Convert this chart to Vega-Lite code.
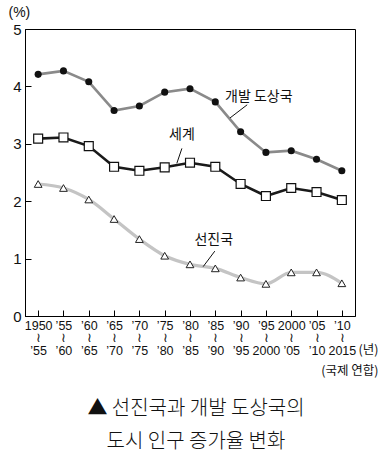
{
  "$schema": "https://vega.github.io/schema/vega-lite/v6.json",
  "width": 330,
  "height": 287,
  "autosize": {"type": "none"},
  "padding": {"left": 25, "top": 29, "right": 29, "bottom": 145},
  "background": "white",
  "config": {
    "view": {"stroke": "black", "strokeWidth": 1},
    "font": "Liberation Sans"
  },
  "title": {
    "text": ["▲ 선진국과 개발 도상국의", "도시 인구 증가율 변화"],
    "orient": "bottom",
    "anchor": "middle",
    "frame": "group",
    "font": "Noto Sans CJK KR",
    "fontSize": 20,
    "fontWeight": 300,
    "lineHeight": 33,
    "color": "#111",
    "dx": 6,
    "offset": 22
  },
  "datasets": {
    "rates": [
      {"year": 1950, "series": "개발 도상국", "value": 4.21},
      {"year": 1955, "series": "개발 도상국", "value": 4.27},
      {"year": 1960, "series": "개발 도상국", "value": 4.08},
      {"year": 1965, "series": "개발 도상국", "value": 3.58},
      {"year": 1970, "series": "개발 도상국", "value": 3.66},
      {"year": 1975, "series": "개발 도상국", "value": 3.9},
      {"year": 1980, "series": "개발 도상국", "value": 3.96},
      {"year": 1985, "series": "개발 도상국", "value": 3.73},
      {"year": 1990, "series": "개발 도상국", "value": 3.21},
      {"year": 1995, "series": "개발 도상국", "value": 2.85},
      {"year": 2000, "series": "개발 도상국", "value": 2.88},
      {"year": 2005, "series": "개발 도상국", "value": 2.73},
      {"year": 2010, "series": "개발 도상국", "value": 2.53},
      {"year": 1950, "series": "세계", "value": 3.09},
      {"year": 1955, "series": "세계", "value": 3.11},
      {"year": 1960, "series": "세계", "value": 2.96},
      {"year": 1965, "series": "세계", "value": 2.6},
      {"year": 1970, "series": "세계", "value": 2.53},
      {"year": 1975, "series": "세계", "value": 2.59},
      {"year": 1980, "series": "세계", "value": 2.67},
      {"year": 1985, "series": "세계", "value": 2.6},
      {"year": 1990, "series": "세계", "value": 2.3},
      {"year": 1995, "series": "세계", "value": 2.09},
      {"year": 2000, "series": "세계", "value": 2.23},
      {"year": 2005, "series": "세계", "value": 2.16},
      {"year": 2010, "series": "세계", "value": 2.02},
      {"year": 1950, "series": "선진국", "value": 2.3},
      {"year": 1955, "series": "선진국", "value": 2.23},
      {"year": 1960, "series": "선진국", "value": 2.03},
      {"year": 1965, "series": "선진국", "value": 1.69},
      {"year": 1970, "series": "선진국", "value": 1.34},
      {"year": 1975, "series": "선진국", "value": 1.05},
      {"year": 1980, "series": "선진국", "value": 0.9},
      {"year": 1985, "series": "선진국", "value": 0.83},
      {"year": 1990, "series": "선진국", "value": 0.67},
      {"year": 1995, "series": "선진국", "value": 0.56},
      {"year": 2000, "series": "선진국", "value": 0.76},
      {"year": 2005, "series": "선진국", "value": 0.76},
      {"year": 2010, "series": "선진국", "value": 0.57}
    ],
    "labels": [
      {"label": "개발 도상국", "year": 1993.6, "value": 3.82},
      {"label": "세계", "year": 1978.4, "value": 3.16},
      {"label": "선진국", "year": 1984.7, "value": 1.33}
    ],
    "leaders": [
      {"year": 1987.9, "value": 3.45, "year2": 1991.3, "value2": 3.68},
      {"year": 1977.4, "value": 2.66, "year2": 1978.4, "value2": 2.92},
      {"year": 1982.6, "value": 0.86, "year2": 1984.9, "value2": 1.13}
    ]
  },
  "encoding": {
    "x": {
      "field": "year",
      "type": "quantitative",
      "scale": {"domain": [1947.4, 2012.6], "nice": false, "zero": false},
      "axis": {
        "values": [1950, 1955, 1960, 1965, 1970, 1975, 1980, 1985, 1990, 1995, 2000, 2005, 2010],
        "labelExpr": "[(datum.value==1950||datum.value==2000)?toString(datum.value):'’'+substring(toString(datum.value),2), '≀', (datum.value==1995||datum.value==2010)?toString(datum.value+5):'’'+substring(toString(datum.value+5),2)]",
        "labelOverlap": false,
        "labelFlush": false,
        "labelBound": false,
        "labelFontSize": 12.5,
        "labelLineHeight": 12.5,
        "labelBaseline": "top",
        "labelPadding": 9,
        "labelColor": "#111",
        "tickSize": -6,
        "tickColor": "black",
        "domainColor": "black",
        "grid": false,
        "title": ["(년)", "(국제 연합)"],
        "titleFont": "Noto Sans CJK KR",
        "titleFontSize": 12.5,
        "titleFontWeight": "normal",
        "titleLineHeight": 21,
        "titleAlign": "right",
        "titleAnchor": null,
        "titleBaseline": "top",
        "titleX": 353,
        "titleY": 27,
        "titleColor": "#111"
      }
    },
    "y": {
      "field": "value",
      "type": "quantitative",
      "scale": {"domain": [0, 5], "nice": false},
      "axis": {
        "values": [0, 1, 2, 3, 4, 5],
        "labelFontSize": 15,
        "labelPadding": 10,
        "labelColor": "#111",
        "tickSize": -6,
        "tickColor": "black",
        "domainColor": "black",
        "grid": false,
        "title": "(%)",
        "titleAngle": 0,
        "titleFontSize": 14,
        "titleFontWeight": "normal",
        "titleAlign": "left",
        "titleBaseline": "top",
        "titleX": -17,
        "titleY": -24,
        "titleColor": "#111"
      }
    }
  },
  "layer": [
    {
      "data": {"name": "rates"},
      "transform": [{"filter": "datum.series == '선진국'"}],
      "mark": {"type": "line", "color": "#c4c4c4", "strokeWidth": 3.2, "interpolate": "monotone"}
    },
    {
      "data": {"name": "rates"},
      "transform": [{"filter": "datum.series == '개발 도상국'"}],
      "mark": {"type": "line", "color": "#8a8a8a", "strokeWidth": 2.6}
    },
    {
      "data": {"name": "rates"},
      "transform": [{"filter": "datum.series == '세계'"}],
      "mark": {"type": "line", "color": "#1a1a1a", "strokeWidth": 2.6}
    },
    {
      "data": {"name": "rates"},
      "transform": [{"filter": "datum.series == '선진국'"}],
      "mark": {"type": "point", "shape": "triangle-up", "filled": true, "fill": "white", "stroke": "#222", "strokeWidth": 1, "size": 60, "opacity": 1}
    },
    {
      "data": {"name": "rates"},
      "transform": [{"filter": "datum.series == '개발 도상국'"}],
      "mark": {"type": "point", "shape": "circle", "filled": true, "fill": "#111", "size": 50, "opacity": 1}
    },
    {
      "data": {"name": "rates"},
      "transform": [{"filter": "datum.series == '세계'"}],
      "mark": {"type": "point", "shape": "square", "filled": true, "fill": "white", "stroke": "#111", "strokeWidth": 1.2, "size": 80, "opacity": 1}
    },
    {
      "data": {"name": "leaders"},
      "mark": {"type": "rule", "color": "#111", "strokeWidth": 1},
      "encoding": {
        "x2": {"field": "year2"},
        "y2": {"field": "value2"}
      }
    },
    {
      "data": {"name": "labels"},
      "mark": {"type": "text", "font": "Noto Sans CJK KR", "fontSize": 14, "color": "#111", "align": "center", "baseline": "middle"},
      "encoding": {"text": {"field": "label"}}
    }
  ]
}
